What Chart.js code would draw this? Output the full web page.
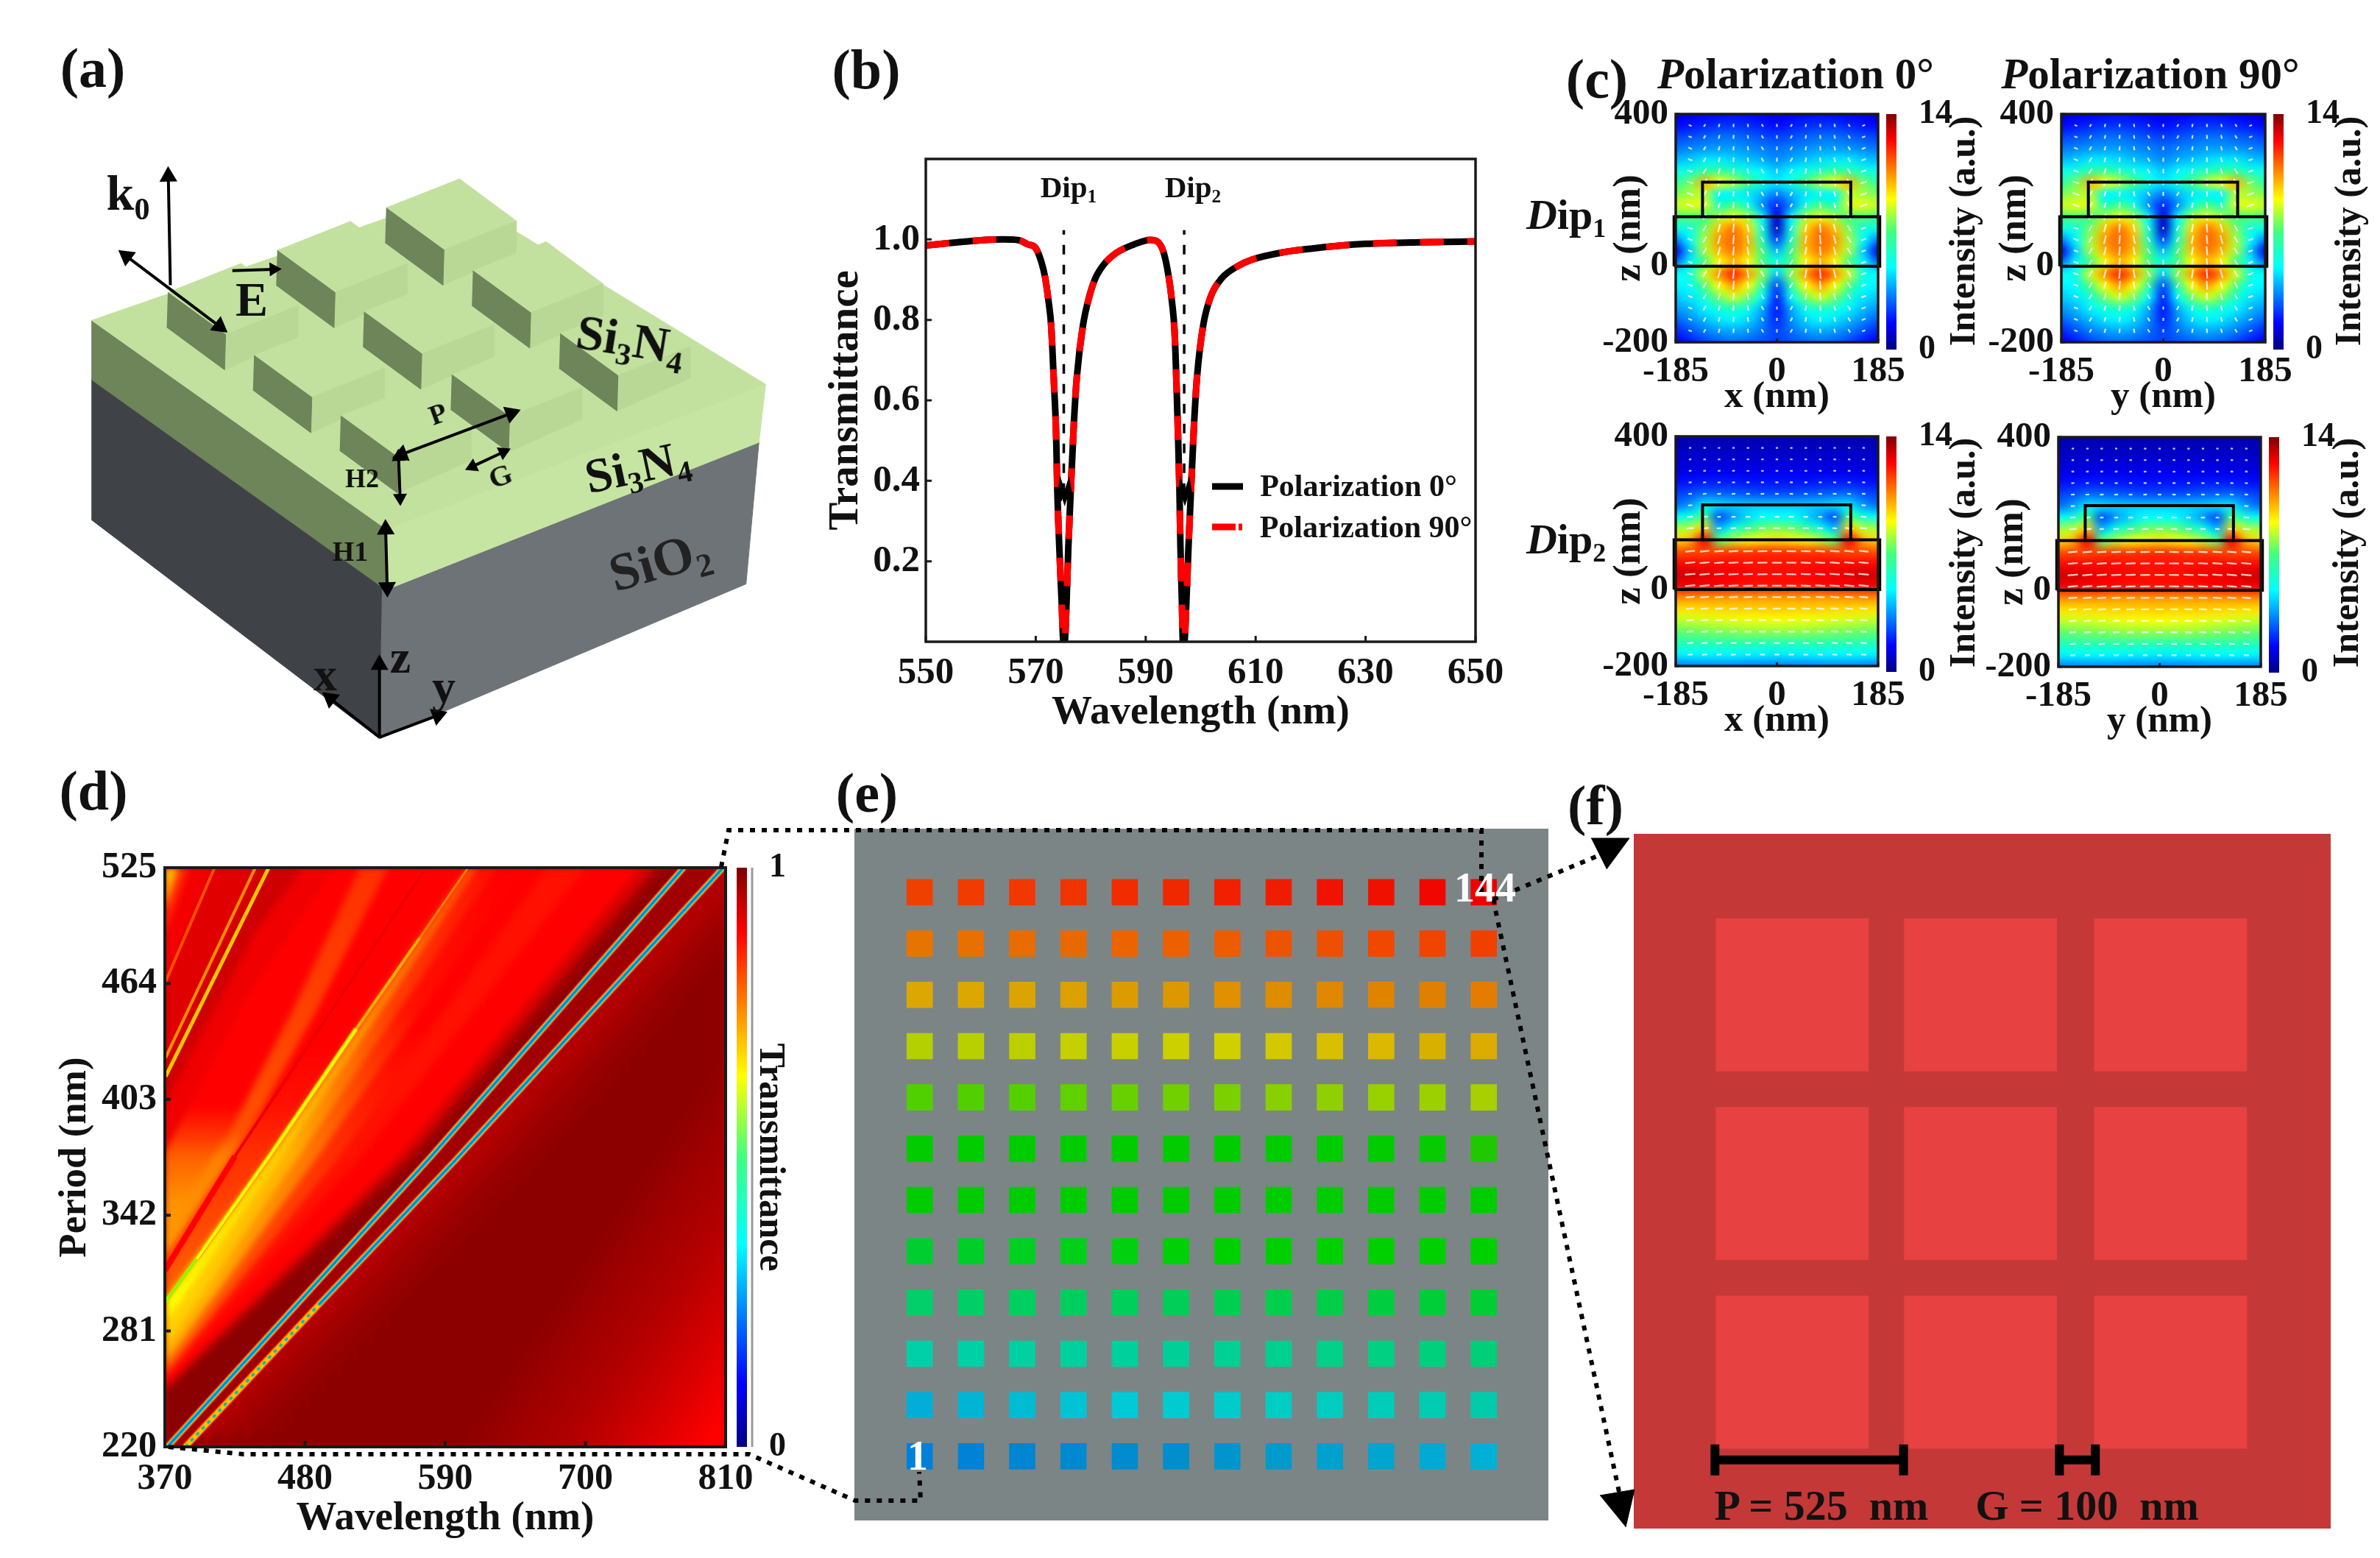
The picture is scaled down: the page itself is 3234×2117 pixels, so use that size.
<!DOCTYPE html>
<html>
<head>
<meta charset="utf-8">
<title>Metasurface colour filter figure</title>
<script src="https://cdn.jsdelivr.net/npm/chart.js@4/dist/chart.umd.min.js"></script>
<style>
  html, body { margin: 0; padding: 0; background: #fff; }
  body { position: relative; width: 3234px; height: 2117px; overflow: hidden; filter: blur(0.6px); }
  canvas { position: absolute; display: block; }
  .note { position: absolute; font-family: "Liberation Serif", serif; font-weight: bold; color: #111;
          white-space: pre; line-height: 1; }
  .note sub { font-size: 62%; vertical-align: -0.3em; line-height: 0; }
  .note i { font-style: italic; }
</style>
</head>
<body>
<script>
// ---- panel (b) spectrum
const specWavelength = [550, 555, 560, 564, 567, 568.5, 569.9, 571, 571.7, 572.36, 572.8, 573.25, 573.7, 573.92, 574.28, 574.72, 575.03, 575.26, 575.6, 575.93, 576.37, 576.95, 577.49, 578.6, 579.72, 580.83, 582.4, 584.6, 587.75, 590.87, 592.2, 593.3, 594.2, 594.8, 595.25, 595.56, 595.87, 596.14, 596.32, 596.59, 596.77, 597.03, 597.39, 597.79, 598.24, 598.82, 599.35, 600.47, 601.8, 603.8, 606.94, 609.17, 615, 620, 625, 630, 640, 650];
const specTransmittance = [0.985, 0.992, 0.998, 1, 0.998, 0.988, 0.98, 0.945, 0.906, 0.843, 0.787, 0.66, 0.519, 0.378, 0.237, 0.097, 0, 0, 0.097, 0.237, 0.378, 0.547, 0.66, 0.787, 0.857, 0.903, 0.938, 0.966, 0.987, 0.999, 0.994, 0.966, 0.906, 0.843, 0.772, 0.66, 0.519, 0.378, 0.237, 0.097, 0, 0, 0.097, 0.237, 0.378, 0.547, 0.66, 0.787, 0.857, 0.903, 0.935, 0.949, 0.968, 0.977, 0.984, 0.989, 0.993, 0.995];
const dipWavelengths = [575.1, 597];
const notchOne = [[574.27, 0.35], [574.59, 0.385], [575.26, 0.357], [575.93, 0.385], [576.37, 0.35]];
const notchTwo = [[596.14, 0.35], [596.46, 0.385], [597.13, 0.357], [597.8, 0.385], [598.24, 0.35]];
const specXTicks = [550, 570, 590, 610, 630, 650];
const specYTicks = [0.2, 0.4, 0.6, 0.8, 1.0];

// ---- panel (c) field maps, intensity 0..14 on fieldZ x fieldX
const fieldX = [-185, -158.6, -132.1, -105.7, -79.3, -52.9, -26.4, 0, 26.4, 52.9, 79.3, 105.7, 132.1, 158.6, 185];
const fieldZ = [400, 370, 340, 310, 280, 250, 220, 190, 160, 130, 100, 70, 40, 10, -20, -50, -80, -110, -140, -170, -200];
const dip1Field = [
  [0.9, 1.2, 1.4, 1.6, 1.7, 1.6, 1.4, 1.2, 1.4, 1.6, 1.7, 1.6, 1.4, 1.2, 0.9],
  [1.6, 1.8, 2.0, 2.2, 2.2, 2.1, 1.9, 1.7, 1.9, 2.1, 2.2, 2.2, 2.0, 1.8, 1.6],
  [2.4, 2.6, 2.8, 3.0, 3.0, 2.8, 2.6, 2.4, 2.6, 2.8, 3.0, 3.0, 2.8, 2.6, 2.4],
  [3.1, 3.3, 3.5, 3.6, 3.6, 3.4, 3.2, 3.0, 3.2, 3.4, 3.6, 3.6, 3.5, 3.3, 3.1],
  [4.0, 4.2, 4.6, 4.6, 4.4, 4.1, 3.8, 3.4, 3.8, 4.1, 4.4, 4.6, 4.6, 4.2, 4.0],
  [5.2, 5.6, 6.5, 6.6, 6.0, 5.4, 4.8, 4.2, 4.8, 5.4, 6.0, 6.6, 6.5, 5.6, 5.2],
  [6.4, 7.5, 10, 9.0, 8.2, 7.0, 5.5, 4.6, 5.5, 7.0, 8.2, 9.0, 10, 7.5, 6.4],
  [7.6, 8.0, 8.2, 4.8, 4.8, 4.6, 4.0, 3.2, 4.0, 4.6, 4.8, 4.8, 8.2, 8.0, 7.6],
  [8.4, 8.6, 8.6, 6.0, 7.0, 5.6, 3.4, 2.0, 3.4, 5.6, 7.0, 6.0, 8.6, 8.6, 8.4],
  [7.0, 7.2, 7.0, 8.0, 8.8, 8.0, 4.8, 1.0, 4.8, 8.0, 8.8, 8.0, 7.0, 7.2, 7.0],
  [5.5, 5.5, 7.5, 9.8, 10.8, 9.5, 5.5, 0.8, 5.5, 9.5, 10.8, 9.8, 7.5, 5.5, 5.5],
  [3.2, 5.0, 8.0, 10.4, 11, 10, 6.0, 2.4, 6.0, 10, 11, 10.4, 8.0, 5.0, 3.2],
  [1.2, 4.2, 8.0, 10, 10.8, 9.8, 7.0, 4.0, 7.0, 9.8, 10.8, 10, 8.0, 4.2, 1.2],
  [3.0, 4.8, 7.0, 9.0, 10, 9.0, 7.0, 5.4, 7.0, 9.0, 10, 9.0, 7.0, 4.8, 3.0],
  [5.0, 5.5, 8.5, 10.6, 12, 10.4, 7.8, 4.2, 7.8, 10.4, 12, 10.6, 8.5, 5.5, 5.0],
  [4.8, 5.0, 7.2, 9.0, 10.4, 9.0, 6.5, 2.6, 6.5, 9.0, 10.4, 9.0, 7.2, 5.0, 4.8],
  [4.2, 4.6, 5.8, 7.6, 8.5, 7.6, 5.0, 2.0, 5.0, 7.6, 8.5, 7.6, 5.8, 4.6, 4.2],
  [3.6, 4.0, 4.8, 5.6, 6.0, 5.4, 3.8, 1.8, 3.8, 5.4, 6.0, 5.6, 4.8, 4.0, 3.6],
  [2.8, 3.4, 4.0, 4.6, 4.8, 4.4, 3.4, 2.0, 3.4, 4.4, 4.8, 4.6, 4.0, 3.4, 2.8],
  [2.0, 2.6, 3.2, 3.6, 3.8, 3.6, 3.0, 2.4, 3.0, 3.6, 3.8, 3.6, 3.2, 2.6, 2.0],
  [1.2, 1.8, 2.4, 2.8, 3.0, 2.8, 2.6, 2.4, 2.6, 2.8, 3.0, 2.8, 2.4, 1.8, 1.2],
];
const dip2Field = [
  [0.5, 0.6, 0.6, 0.6, 0.6, 0.6, 0.6, 0.6, 0.6, 0.6, 0.6, 0.6, 0.6, 0.6, 0.5],
  [0.7, 0.8, 0.8, 0.8, 0.8, 0.8, 0.8, 0.8, 0.8, 0.8, 0.8, 0.8, 0.8, 0.8, 0.7],
  [0.9, 1.0, 1.0, 1.0, 1.0, 1.0, 1.0, 1.0, 1.0, 1.0, 1.0, 1.0, 1.0, 1.0, 0.9],
  [1.2, 1.2, 1.3, 1.3, 1.3, 1.3, 1.3, 1.3, 1.3, 1.3, 1.3, 1.3, 1.3, 1.2, 1.2],
  [1.7, 1.8, 1.9, 1.9, 1.9, 1.8, 1.8, 1.8, 1.8, 1.8, 1.9, 1.9, 1.9, 1.8, 1.7],
  [2.4, 2.6, 3.0, 2.9, 2.8, 2.7, 2.6, 2.6, 2.6, 2.7, 2.8, 2.9, 3.0, 2.6, 2.4],
  [3.0, 3.6, 4.6, 4.4, 4.2, 4.2, 4.2, 4.2, 4.2, 4.2, 4.2, 4.4, 4.6, 3.6, 3.0],
  [5.0, 5.6, 7.0, 2.6, 3.6, 4.4, 5.0, 5.0, 5.0, 4.4, 3.6, 2.6, 7.0, 5.6, 5.0],
  [8.0, 8.2, 9.8, 4.0, 5.6, 6.6, 7.4, 7.6, 7.4, 6.6, 5.6, 4.0, 9.8, 8.2, 8.0],
  [9.5, 10, 12.5, 7.2, 8.2, 8.8, 9.2, 9.4, 9.2, 8.8, 8.2, 7.2, 12.5, 10, 9.5],
  [11.3, 11.4, 11.5, 11.5, 11.6, 11.6, 11.7, 11.7, 11.7, 11.6, 11.6, 11.5, 11.5, 11.4, 11.3],
  [12.3, 12.3, 12.3, 12.3, 12.3, 12.2, 12.2, 12.2, 12.2, 12.2, 12.3, 12.3, 12.3, 12.3, 12.3],
  [13, 13, 12.8, 12.6, 12.5, 12.4, 12.3, 12.3, 12.3, 12.4, 12.5, 12.6, 12.8, 13, 13],
  [12.6, 12.6, 12.5, 12.4, 12.3, 12.2, 12.2, 12.2, 12.2, 12.2, 12.3, 12.4, 12.5, 12.6, 12.6],
  [10.6, 10.6, 10.5, 10.5, 10.4, 10.4, 10.4, 10.4, 10.4, 10.4, 10.4, 10.5, 10.5, 10.6, 10.6],
  [9.4, 9.4, 9.5, 9.5, 9.6, 9.6, 9.6, 9.7, 9.6, 9.6, 9.6, 9.5, 9.5, 9.4, 9.4],
  [8.3, 8.4, 8.5, 8.6, 8.7, 8.8, 8.8, 8.9, 8.8, 8.8, 8.7, 8.6, 8.5, 8.4, 8.3],
  [7.3, 7.4, 7.5, 7.6, 7.7, 7.8, 7.8, 7.8, 7.8, 7.8, 7.7, 7.6, 7.5, 7.4, 7.3],
  [6.0, 6.1, 6.2, 6.2, 6.2, 6.2, 6.1, 6.1, 6.1, 6.2, 6.2, 6.2, 6.2, 6.1, 6.0],
  [4.7, 4.8, 4.8, 4.8, 4.8, 4.7, 4.7, 4.6, 4.7, 4.7, 4.8, 4.8, 4.8, 4.8, 4.7],
  [3.2, 3.2, 3.3, 3.3, 3.3, 3.2, 3.2, 3.2, 3.2, 3.2, 3.3, 3.3, 3.3, 3.2, 3.2],
];
const dip1Angle = [20, 20, 120, 105, 95, 80, 60, 90, 120, 100, 85, 75, 60, -20, -20];
const dip2Angle = [-5, -5, -5, -4, -3, -2, -1, 0, 1, 2, 3, 4, 5, 5, 5];
const slabOutline = [[-188, 0], [188, 0], [188, 130], [-188, 130], [-188, 0]];
const pillarOutline = [[-136, 130], [-136, 221], [135, 221], [135, 130]];
const fieldXTicks = [-185, 0, 185];
const fieldYTicks = [-200, 0, 400];

// ---- panel (d) transmittance map: band edges from upper left to lower right.
// A band's colour fills everything on the upper left of its edge.
const periodTicks = [220, 281, 342, 403, 464, 525];
const mapWavelengthTicks = [370, 480, 590, 700, 810];
const bandEdges = [
  [[370, 515], [374, 525]],
  [[370, 503], [381, 525]],
  [[370, 490], [389, 525]],
  [[370, 462], [407, 525]],
  [[370, 420], [445, 525]],
  [[370, 400], [440, 490], [478, 525]],
  [[370, 375], [433, 455], [503, 525]],
  [[370, 335], [421, 386], [471, 451], [523, 525]],
  [[370, 320], [440, 390], [490, 451], [545, 525]],
  [[370, 313], [425, 373], [575, 525]],
  [[370, 297], [452, 373], [608, 525]],
  [[370, 285], [462, 373], [615, 525]],
  [[370, 272], [475, 373], [630, 525]],
  [[370, 264], [490, 373], [650, 525]],
  [[370, 258], [507, 373], [670, 525]],
  [[370, 255], [524, 373], [700, 525]],
  [[370, 252], [553, 373], [743, 525]],
  [[370, 250], [562, 373], [755, 525]],
  [[370, 248], [570, 373], [765, 525]],
  [[370, 218], [479, 299], [579, 373], [777, 525]],
  [[370, 208], [491, 295], [598, 371], [808, 525]],
  [[400, 220], [620, 371], [810, 510]],
  [[415, 220], [635, 371], [810, 500]],
  [[430, 220], [650, 371], [810, 490]],
  [[445, 220], [665, 371], [810, 480]],
];
const bandColors = [
  '#ffe000', '#ffb000', '#ff2800', '#f40000', '#e00000', '#cf0000', '#f00000',
  [[525, '#ff0000'], [400, '#ff0000'], [385, '#ff3000'], [373, '#ff6000'], [350, '#ff9000'], [320, '#ffb000']],
  [[525, '#ff3000'], [451, '#ff4000'], [386, '#ff5000'], [373, '#ff8000'], [320, '#ffa000']],
  [[525, '#ff0000'], [400, '#ff0000'], [373, '#ff2000'], [320, '#ff4000']],
  [[525, '#ff0000'], [430, '#ff0000'], [400, '#ff1000'], [373, '#ff3000'], [300, '#ff6000']],
  [[525, '#ff5000'], [450, '#ff9000'], [373, '#ffd000'], [296, '#ffff00'], [270, '#ffe800']],
  [[525, '#ff1000'], [450, '#ff4000'], [373, '#ffb000'], [300, '#ffd000']],
  [[525, '#ff0000'], [450, '#ff1000'], [373, '#ff7800'], [300, '#ffb000']],
  [[525, '#ff0000'], [440, '#ff0000'], [373, '#ff3000'], [280, '#ff6000']],
  '#ff1000', '#ff0000', '#d80000', '#a00000', '#8b0000', '#a00000', '#b00000', '#a50000', '#9a0000', '#930000',
];
// lower right corner brightens towards (810, 220); stops run from the edge to the corner
const cornerEdge = [[600, 220], [810, 430]];
const cornerStops = [[0, '#8d0000'], [0.24, '#a40000'], [0.43, '#b40000'], [0.57, '#c80000'], [0.714, '#dc0000'], [0.833, '#f00000'], [0.93, '#ff0000'], [1, '#ff0000']];
const dipOneLine = [[372, 220], [479, 299], [579, 373], [777, 525]];
const dipTwoFull = [[386, 220], [491, 295], [598, 371], [808, 525]];
const dipTwoUpper = [[491, 295], [598, 371], [808, 525]];
const dipTwoLower = [[386, 220], [491, 295]];
const ridgeStart = [[370, 296], [395, 319]];
const ridgeLow = [[395, 319], [452, 373], [520, 440]];
const ridgeMid = [[520, 440], [570, 488]];
const ridgeHigh = [[570, 488], [608, 525]];
const thinLine = [[370.6, 465], [409, 525]];
const doubleLineA = [[370.6, 425], [441, 525]];
const doubleLineB = [[370.6, 415], [451.5, 525]];
const redLineLow = [[370, 313], [425, 373]];
const redLineHigh = [[425, 373], [575, 525]];

// ---- panel (e) printed colours, row 1 (bottom) first
const cellColumns = [1, 2, 3, 4, 5, 6, 7, 8, 9, 10, 11, 12];
const cellRows = [1, 2, 3, 4, 5, 6, 7, 8, 9, 10, 11, 12];
const cellColors = [
  ['#0080d8', '#0082d6', '#0085d2', '#0088d0', '#008bce', '#008fcc', '#0095cc', '#009bcc', '#00a0cf', '#00a5d0', '#00aad2', '#00b0d6'],
  ['#00aed8', '#00b4d6', '#00bcd2', '#00c4d4', '#00cad6', '#00ccd0', '#00cccc', '#00cdc4', '#00cdbe', '#00cdb8', '#00ccb2', '#00ccac'],
  ['#00d0a8', '#00d0a6', '#00d0a2', '#00d0a0', '#00d09c', '#00d098', '#00d094', '#00d08e', '#00d088', '#00d082', '#00cf7c', '#00ce78'],
  ['#00cf6a', '#00cf68', '#00d060', '#00cf60', '#00cf5c', '#00ce58', '#00ce50', '#00ce4c', '#00ce48', '#00ce40', '#00ce38', '#00ce34'],
  ['#00ce30', '#00ce28', '#00d020', '#00d018', '#00d010', '#00d008', '#00d000', '#00d000', '#00d000', '#00d000', '#00d000', '#00d000'],
  ['#00cc00', '#00cc00', '#00cc00', '#00cc00', '#00cc00', '#00cc00', '#00cc00', '#00cc00', '#00cc00', '#00cc00', '#00cc00', '#00cc00'],
  ['#00cc00', '#00cc00', '#00cc00', '#00cc00', '#00cc00', '#00cc00', '#00cc00', '#00cc00', '#00cc00', '#00cc00', '#08ca00', '#20c800'],
  ['#50d000', '#50d000', '#54d000', '#60d000', '#68d000', '#70d000', '#7cd000', '#88d000', '#90d000', '#98d000', '#9cd000', '#a8d000'],
  ['#b4d000', '#b8d000', '#bcd000', '#c4d000', '#c8d000', '#ccd000', '#d0d000', '#d4c800', '#d8c000', '#dcb800', '#d8b000', '#dcac00'],
  ['#dca800', '#dca800', '#dca400', '#dca000', '#dc9c00', '#dc9800', '#e09000', '#e08c00', '#e08800', '#e08400', '#e08000', '#e47c00'],
  ['#e87400', '#e87000', '#e86c00', '#e86800', '#ec6400', '#ec6000', '#ec5c00', '#ec5400', '#ec5000', '#f04800', '#f04400', '#f04000'],
  ['#f04000', '#f03c00', '#f03800', '#f03400', '#f02c00', '#f02800', '#f02000', '#f01c00', '#f01400', '#f01000', '#f00800', '#f00000'],
];

// ---- panel (f) unit cell in nm
const squareCentersX = [-522, 2, 531];
const squareCentersY = [525, 0, -525];
const periodBar = [[-737, -769], [-212, -769]];
const periodCaps = [[[-737, -812], [-737, -726]], [[-212, -812], [-212, -726]]];
const gapBar = [[222, -769], [322, -769]];
const gapCaps = [[[222, -812], [222, -726]], [[322, -812], [322, -726]]];

// ---- panel (a) schematic, in its own drawing units
const lowerLeftFace = [[177, 785], [740, 1215], [735, 1528], [177, 1075]];
const lowerRightFace = [[740, 1215], [1470, 915], [1445, 1208], [735, 1528]];
const slabLeftFace = [[177, 663], [748, 1095], [748, 1220], [177, 785]];
const slabRightFace = [[748, 1095], [1483, 795], [1470, 915], [748, 1220]];
const slabTopFace = [[177, 663], [882, 402], [1483, 795], [748, 1095]];
const pillarAnchors = [[748, 430], [537, 518], [916, 560], [325, 605], [705, 645], [1085, 690], [492, 735], [875, 775], [660, 860]];
const pillarTop = [[0, 0], [142, -60], [252, 27], [112, 87]];
const pillarLeft = [[0, 0], [112, 87], [110, 160], [-2, 72]];
const pillarRight = [[112, 87], [252, 27], [252, 92], [110, 160]];
const schematicArrows = [
  [330, 590, 326, 365, 0], [245, 530, 425, 675, 1], [450, 560, 530, 557, 0], [778, 940, 990, 855, 1],
  [772, 945, 775, 1030, 1], [915, 965, 975, 935, 1], [747, 1095, 750, 1215, 1],
  [735, 1525, 735, 1375, 0], [735, 1525, 640, 1445, 0], [735, 1525, 848, 1480, 0],
];

// ---- dotted leaders between panels, in page units
const leaderTop = [[980, 1178], [990, 1128], [2013, 1128], [2013, 1212]];
const leaderBottom = [[229, 1966], [331, 1976], [1018, 1976], [1162, 2039], [1251, 2039], [1249, 2000]];
const leaderToCorner = [[2029, 1222], [2183, 1158]];
const leaderToFoot = [[2029, 1222], [2200, 2027]];
const arrowHeadTop = [[2162, 1139], [2214, 1139], [2183, 1181]];
const arrowHeadFoot = [[2174, 2032], [2221, 2024], [2209, 2075]];
const legendKeyBlack = [[1647, 661], [1689, 661]];
const legendKeyRed = [[1647, 716], [1689, 716]];

const jetStops = [[0, '#00007f'], [0.11, '#0000ff'], [0.35, '#00ffff'], [0.5, '#40ff80'], [0.64, '#ffff00'], [0.89, '#ff0000'], [1, '#7f0000']];
const textFont = '"Liberation Serif", serif';

Chart.defaults.font.family = textFont;
Chart.defaults.font.weight = 'bold';
Chart.defaults.color = '#111';
Chart.defaults.animation = false;
Chart.defaults.events = [];
Chart.defaults.devicePixelRatio = 1;
Chart.defaults.plugins.legend.display = false;
Chart.defaults.plugins.tooltip.enabled = false;

const toPoints = (pairs) => pairs.map(([x, y]) => ({ x, y }));

const hexToRgb = (hex) => [1, 3, 5].map((i) => parseInt(hex.slice(i, i + 2), 16));
const jetColor = (t) => {
  let i = 0;
  while (i < jetStops.length - 2 && t > jetStops[i + 1][0]) i += 1;
  const [t0, c0] = jetStops[i];
  const [t1, c1] = jetStops[i + 1];
  const f = Math.min(1, Math.max(0, (t - t0) / (t1 - t0)));
  const a = hexToRgb(c0);
  const b = hexToRgb(c1);
  return `rgb(${a.map((v, k) => Math.round(v + (b[k] - v) * f)).join(',')})`;
};

const addCanvas = (left, top, width, height, parent = document.body) => {
  const canvas = document.createElement('canvas');
  canvas.width = width;
  canvas.height = height;
  canvas.style.left = `${left}px`;
  canvas.style.top = `${top}px`;
  canvas.style.width = `${width}px`;
  canvas.style.height = `${height}px`;
  parent.appendChild(canvas);
  return canvas;
};

const lineSet = (pairs, color, width, extra = {}) => ({
  data: toPoints(pairs),
  showLine: true,
  borderColor: color,
  borderWidth: width,
  pointRadius: 0,
  tension: 0,
  ...extra,
});

const polySet = (pairs, color) => ({
  data: toPoints(pairs),
  showLine: true,
  fill: 'shape',
  backgroundColor: color,
  borderColor: color,
  borderWidth: 1,
  pointRadius: 0,
  tension: 0,
});

const frameTicks = (lineWidth, tickLength, tickWidth) => ({
  id: 'frameTicks',
  afterDatasetsDraw(chart) {
    const { ctx, chartArea: a, scales: { x, y } } = chart;
    ctx.save();
    ctx.strokeStyle = '#1a1a1a';
    ctx.lineWidth = tickWidth;
    ctx.beginPath();
    x.ticks.forEach((t) => {
      const px = x.getPixelForValue(t.value);
      ctx.moveTo(px, a.bottom);
      ctx.lineTo(px, a.bottom - tickLength);
    });
    y.ticks.forEach((t) => {
      const py = y.getPixelForValue(t.value);
      ctx.moveTo(a.left, py);
      ctx.lineTo(a.left + tickLength, py);
    });
    ctx.stroke();
    ctx.lineWidth = lineWidth;
    ctx.strokeRect(a.left, a.top, a.width, a.height);
    ctx.restore();
  },
});

// scales keep the label overflow out of the layout so the plot box stays put
const clearScalePadding = (s) => {
  s.paddingTop = 0;
  s.paddingBottom = 0;
  s.paddingLeft = 0;
  s.paddingRight = 0;
};

// chart whose plot area lands exactly on box = [left, top, right, bottom]
const plotChart = ({ box, pad, xRange, yRange, xTicks, yTicks, xTitle, yTitle, tickSize, xTitleSize, yTitleSize, xPad, yPad, yFormat, datasets, plugins }) => {
  const [l, t, r, b] = box;
  const canvas = addCanvas(l - pad.l, t - pad.t, r - l + pad.l + pad.r, b - t + pad.t + pad.b);
  const axis = (range, ticks, padding, title, titleSize) => ({
    type: 'linear',
    min: range[0],
    max: range[1],
    afterBuildTicks: (s) => { s.ticks = ticks.map((value) => ({ value })); },
    grid: { display: false, drawTicks: false },
    border: { display: false },
    ticks: { font: { size: tickSize }, padding, maxRotation: 0, autoSkip: false, includeBounds: false },
    title: { display: true, text: title.text, font: { size: titleSize }, padding: { top: title.inset || 0, bottom: 0 } },
  });
  const x = axis(xRange, xTicks, xPad, xTitle, xTitleSize);
  const y = axis(yRange, yTicks, yPad, yTitle, yTitleSize);
  x.afterFit = (s) => { s.height = pad.b; clearScalePadding(s); };
  y.afterFit = (s) => { s.width = pad.l; clearScalePadding(s); };
  if (yFormat) y.ticks.callback = yFormat;
  return new Chart(canvas, {
    type: 'scatter',
    data: { datasets },
    options: {
      responsive: false,
      layout: { autoPadding: false, padding: { top: pad.t, right: pad.r, left: 0, bottom: 0 } },
      scales: { x, y },
    },
    plugins,
  });
};

const bareChart = (canvas, xRange, yRange, datasets, reverse = false, plugins = []) => new Chart(canvas, {
  type: 'scatter',
  data: { datasets },
  options: {
    responsive: false,
    layout: { autoPadding: false, padding: 0 },
    scales: {
      x: { type: 'linear', display: false, min: xRange[0], max: xRange[1] },
      y: { type: 'linear', display: false, min: yRange[0], max: yRange[1], reverse },
    },
  },
  plugins,
});

const colorbar = ({ box, padRight, maxValue, title, rule }) => {
  const [l, t, r, b] = box;
  const canvas = addCanvas(l, t - 30, r - l + padRight, b - t + 60);
  const plugins = rule ? [{
    id: 'barRule',
    afterDatasetsDraw(chart) {
      const { ctx, chartArea: a } = chart;
      ctx.save();
      ctx.strokeStyle = '#9a9a9a';
      ctx.lineWidth = 3;
      ctx.beginPath();
      ctx.moveTo(a.right + 7, a.top);
      ctx.lineTo(a.right + 7, a.bottom);
      ctx.stroke();
      ctx.restore();
    },
  }] : [];
  return new Chart(canvas, {
    type: 'bar',
    data: {
      labels: [''],
      datasets: [{
        data: [[0, maxValue]],
        barPercentage: 1,
        categoryPercentage: 1,
        borderSkipped: false,
        backgroundColor: (ctx) => {
          const { chart } = ctx;
          if (!chart.chartArea) return '#000';
          const g = chart.ctx.createLinearGradient(0, chart.chartArea.bottom, 0, chart.chartArea.top);
          jetStops.forEach(([s, c]) => g.addColorStop(s, c));
          return g;
        },
      }],
    },
    options: {
      responsive: false,
      layout: { autoPadding: false, padding: { top: 30, bottom: 30, left: 0, right: 0 } },
      scales: {
        x: { display: false },
        y: {
          position: 'right',
          min: 0,
          max: maxValue,
          afterBuildTicks: (s) => { s.ticks = [0, maxValue].map((value) => ({ value })); },
          afterFit: (s) => { s.width = padRight; clearScalePadding(s); },
          grid: { display: false, drawTicks: false },
          border: { display: false },
          ticks: { font: { size: 46 }, padding: 30 },
          title: title ? { display: true, text: title, font: { size: 50 }, padding: 0 } : { display: false },
        },
      },
    },
    plugins,
  });
};

// ---- (a) schematic
const drawSchematic = () => {
  const canvas = addCanvas(0, 0, 1100, 1030);
  const sx = 1568 / 1100;
  const sy = 1568 / 1030;
  const painted = [
    polySet(lowerLeftFace, '#3f4347'),
    polySet(lowerRightFace, '#6e7377'),
    polySet(slabLeftFace, '#6e8459'),
    polySet(slabRightFace, '#c6e5a2'),
    polySet(slabTopFace, '#c2e19e'),
  ];
  pillarAnchors.forEach(([ax, ay]) => {
    const shift = (shape) => shape.map(([x, y]) => [ax + x, ay + y]);
    painted.push(polySet(shift(pillarTop), '#c2e19e'));
    painted.push(polySet(shift(pillarRight), '#b9d895'));
    painted.push(polySet(shift(pillarLeft), '#6e8459'));
  });
  schematicArrows.forEach(([x0, y0, x1, y1, both]) => {
    const angle = Math.atan2((x1 - x0) / sx, -(y1 - y0) / sy) * 180 / Math.PI;
    const head = (Math.hypot(x1 - x0, y1 - y0) < 110) ? 7 : 10;
    painted.push(lineSet([[x0, y0], [x1, y1]], '#000', 4, {
      pointStyle: 'triangle',
      pointRadius: [both ? head : 0, head],
      pointRotation: [angle + 180, angle],
      pointBackgroundColor: '#000',
      pointBorderColor: '#000',
    }));
  });
  bareChart(canvas, [0, 1568], [0, 1568], painted.reverse(), true);
};

// ---- (b) spectrum
const drawSpectrum = () => {
  const curve = toPoints(specWavelength.map((w, i) => [w, specTransmittance[i]]));
  const curveOpts = { cubicInterpolationMode: 'monotone' };
  plotChart({
    box: [1258, 216, 2005, 872],
    pad: { l: 142, r: 60, t: 20, b: 130 },
    xRange: [550, 650],
    yRange: [0, 1.2],
    xTicks: specXTicks,
    yTicks: specYTicks,
    xTitle: { text: 'Wavelength (nm)' },
    yTitle: { text: 'Transmittance' },
    tickSize: 51,
    xTitleSize: 55,
    yTitleSize: 57,
    xPad: 12,
    yPad: 8,
    yFormat: (v) => v.toFixed(1),
    datasets: [
      lineSet(notchOne, '#000', 7),
      lineSet(notchTwo, '#000', 7),
      { ...lineSet([], '#ff0000', 9, { borderDash: [32, 32], ...curveOpts }), data: curve, label: 'Polarization 90°' },
      { ...lineSet([], '#000', 9, curveOpts), data: curve, label: 'Polarization 0°' },
      lineSet([[dipWavelengths[0], 0.37], [dipWavelengths[0], 1.023]], '#000', 3.5, { borderDash: [13, 14] }),
      lineSet([[dipWavelengths[1], 0.37], [dipWavelengths[1], 1.023]], '#000', 3.5, { borderDash: [13, 14] }),
    ],
    plugins: [frameTicks(3.5, 8, 3)],
  });
};

// ---- (c) field maps
const fieldImage = (field) => {
  const rows = field.length;
  const cols = field[0].length;
  const off = document.createElement('canvas');
  off.width = cols;
  off.height = rows;
  const c = off.getContext('2d');
  field.forEach((row, j) => row.forEach((v, i) => {
    c.fillStyle = jetColor(v / 14);
    c.fillRect(i, j, 1, 1);
  }));
  return {
    id: 'fieldImage',
    beforeDatasetsDraw(chart) {
      const { ctx, chartArea: a, scales: { x, y } } = chart;
      const x0 = x.getPixelForValue(fieldX[0]);
      const y0 = y.getPixelForValue(fieldZ[0]);
      const dx = x.getPixelForValue(fieldX[1]) - x0;
      const dy = y.getPixelForValue(fieldZ[1]) - y0;
      ctx.save();
      ctx.beginPath();
      ctx.rect(a.left, a.top, a.width, a.height);
      ctx.clip();
      ctx.imageSmoothingEnabled = true;
      ctx.imageSmoothingQuality = 'high';
      ctx.drawImage(off, x0 - dx / 2, y0 - dy / 2, dx * cols, dy * rows);
      ctx.restore();
    },
  };
};

const fieldArrows = (field, angles) => {
  const data = [];
  const rotation = [];
  const radius = [];
  field.forEach((row, j) => {
    if (j === 0 || j === field.length - 1) return;
    row.forEach((v, i) => {
      if (i === 0 || i === row.length - 1) return;
      data.push({ x: fieldX[i], y: fieldZ[j] });
      rotation.push(angles[i]);
      radius.push(1.2 + v * 0.45);
    });
  });
  return {
    data,
    pointStyle: 'line',
    pointRotation: rotation,
    pointRadius: radius,
    pointBorderColor: 'rgba(255,255,255,0.8)',
    pointBorderWidth: 2.2,
  };
};

const drawField = (box, field, angles, axisName) => {
  const outline = { clip: false };
  plotChart({
    box,
    pad: { l: 110, r: 50, t: 24, b: 105 },
    xRange: [-185, 185],
    yRange: [-200, 400],
    xTicks: fieldXTicks,
    yTicks: fieldYTicks,
    xTitle: { text: axisName },
    yTitle: { text: 'z (nm)', inset: 16 },
    tickSize: 49,
    xTitleSize: 51,
    yTitleSize: 53,
    xPad: 11,
    yPad: 10,
    datasets: [
      lineSet(slabOutline, '#000', 4, outline),
      lineSet(pillarOutline, '#000', 4, outline),
      fieldArrows(field, angles),
    ],
    plugins: [fieldImage(field), frameTicks(3.5, 5, 3)],
  });
  colorbar({ box: [box[2] + 11, box[1], box[2] + 25, box[1] + 320], padRight: 90, maxValue: 14 });
};

// ---- (d) transmittance map
const bandFill = (spec) => {
  if (typeof spec === 'string') return spec;
  return (ctx) => {
    const { chart } = ctx;
    const y = chart.scales.y;
    const top = y ? y.getPixelForValue(525) : NaN;
    const bottom = y ? y.getPixelForValue(220) : NaN;
    if (!Number.isFinite(top) || !Number.isFinite(bottom)) return spec[0][1];
    const g = chart.ctx.createLinearGradient(0, top, 0, bottom);
    spec.forEach(([v, c]) => g.addColorStop(Math.min(1, Math.max(0, (525 - v) / 305)), c));
    return g;
  };
};

// gradient across cornerEdge, running from the edge straight to the plot corner
const cornerFill = (ctx) => {
  const { chart } = ctx;
  const { x, y } = chart.scales;
  const cx = x ? x.getPixelForValue(810) : NaN;
  const cy = y ? y.getPixelForValue(220) : NaN;
  if (!Number.isFinite(cx) || !Number.isFinite(cy)) return cornerStops[0][1];
  const ax = x.getPixelForValue(cornerEdge[0][0]);
  const by = y.getPixelForValue(cornerEdge[1][1]);
  const ex = cx - ax;
  const ey = cy - by;
  const len2 = ex * ex + ey * ey;
  const t = (ex * ey * ey) / len2;
  const g = chart.ctx.createLinearGradient(cx - t, cy - (t * ex) / ey, cx, cy);
  cornerStops.forEach(([s, c]) => g.addColorStop(s, c));
  return g;
};

const fillSet = (pairs, color, fill) => ({
  data: toPoints(pairs),
  showLine: true,
  fill,
  backgroundColor: typeof color === 'function' ? color : bandFill(color),
  borderWidth: 0,
  borderColor: 'rgba(0,0,0,0)',
  pointRadius: 0,
  tension: 0,
});

const drawMap = () => {
  const box = [224, 1179, 986, 1966];
  const wrap = document.createElement('div');
  wrap.style.cssText = `position:absolute;left:${box[0]}px;top:${box[1]}px;width:${box[2] - box[0]}px;height:${box[3] - box[1]}px;overflow:hidden;background:#c00000`;
  document.body.appendChild(wrap);
  const heat = addCanvas(0, 0, box[2] - box[0], box[3] - box[1], wrap);
  heat.style.filter = 'blur(5px)';
  const bands = bandEdges.map((edge, i) => fillSet(edge, bandColors[i], 'end'));
  const corner = fillSet(cornerEdge, cornerFill, 'start');
  const base = fillSet([[370, 525], [810, 525]], '#8d0000', 'start');
  bareChart(heat, [370, 810], [220, 525], [...bands, corner, base]);

  plotChart({
    box,
    pad: { l: 153, r: 50, t: 24, b: 131 },
    xRange: [370, 810],
    yRange: [220, 525],
    xTicks: mapWavelengthTicks,
    yTicks: periodTicks,
    xTitle: { text: 'Wavelength (nm)' },
    yTitle: { text: 'Period (nm)' },
    tickSize: 50,
    xTitleSize: 55,
    yTitleSize: 53,
    xPad: 14,
    yPad: 11,
    datasets: [
      lineSet(dipOneLine, '#0088e0', 3),
      lineSet(dipTwoUpper, '#0088e0', 3),
      lineSet(dipTwoLower, '#20b8a0', 4, { borderDash: [5, 6] }),
      lineSet(dipOneLine, '#00e0c8', 5),
      lineSet(dipTwoUpper, '#00e0c8', 5),
      lineSet(dipOneLine, '#ffc000', 7),
      lineSet(dipTwoFull, '#ffc000', 7),
      lineSet(dipOneLine, '#ff3000', 10),
      lineSet(dipTwoFull, '#ff3000', 10),
      lineSet(ridgeStart, '#a0f000', 5),
      lineSet(ridgeLow, '#ffff00', 4),
      lineSet(ridgeMid, '#ffb000', 4),
      lineSet(ridgeHigh, '#ff8000', 3),
      lineSet(ridgeLow, '#ffa000', 7),
      lineSet(thinLine, '#ff5000', 4),
      lineSet(doubleLineA, '#ff9000', 4),
      lineSet(doubleLineB, '#ffc800', 5),
      lineSet(redLineLow, '#ff0000', 8),
      lineSet(redLineHigh, '#ee0000', 4),
    ],
    plugins: [frameTicks(4, 8, 4)],
  });
  colorbar({ box: [1001, 1179, 1015, 1966], padRight: 61, maxValue: 1, title: 'Transmittance', rule: true });
};

// ---- (e) colour grid
const drawGrid = () => {
  const canvas = addCanvas(1161, 1126, 943, 940);
  canvas.style.background = '#7c8586';
  const data = [];
  const colors = [];
  cellRows.forEach((row, j) => cellColumns.forEach((col, i) => {
    data.push({ x: col, y: row });
    colors.push(cellColors[j][i]);
  }));
  bareChart(canvas, [-0.273, 13.26], [-0.25, 13.24], [{
    data,
    pointStyle: 'rect',
    pointRadius: 25.2,
    pointBackgroundColor: colors,
    pointBorderColor: colors,
    pointBorderWidth: 0,
  }]);
};

// ---- (f) unit cell
const drawUnitCell = () => {
  const canvas = addCanvas(2220, 1133, 947, 944);
  canvas.style.background = '#c53838';
  const squares = [];
  squareCentersY.forEach((y) => squareCentersX.forEach((x) => squares.push({ x, y })));
  bareChart(canvas, [-963, 977], [-960, 973], [
    lineSet(periodBar, '#000', 12),
    lineSet(periodCaps[0], '#000', 12),
    lineSet(periodCaps[1], '#000', 12),
    lineSet(gapBar, '#000', 12),
    lineSet(gapCaps[0], '#000', 12),
    lineSet(gapCaps[1], '#000', 12),
    { data: squares, pointStyle: 'rect', pointRadius: 147, pointBackgroundColor: '#e74141', pointBorderWidth: 0 },
  ]);
};

// ---- leaders and legend keys over everything
const drawOverlay = () => {
  const canvas = addCanvas(0, 0, 3234, 2117);
  const dots = { borderDash: [7, 9] };
  bareChart(canvas, [0, 3234], [0, 2117], [
    lineSet(legendKeyBlack, '#000', 9),
    lineSet(legendKeyRed, '#ff0000', 9, { borderDash: [32, 4, 5] }),
    polySet(arrowHeadTop, '#000'),
    polySet(arrowHeadFoot, '#000'),
    lineSet(leaderTop, '#000', 6, dots),
    lineSet(leaderBottom, '#000', 6, dots),
    lineSet(leaderToCorner, '#000', 6, dots),
    lineSet(leaderToFoot, '#000', 6, dots),
  ], true);
};

// text that the charts do not own: [html, x, y, size, rotation, colour]
const notes = [
  ['(a)', 126, 92, 76], ['(b)', 1177, 94, 76], ['(c)', 2170, 107, 76],
  ['(d)', 127, 1074, 76], ['(e)', 1178, 1077, 76], ['(f)', 2168, 1094, 76],
  ['k<sub>0</sub>', 174, 262, 68], ['E', 342, 407, 66],
  ['Si<sub>3</sub>N<sub>4</sub>', 857, 461, 68, 9], ['Si<sub>3</sub>N<sub>4</sub>', 866, 634, 66, -12],
  ['SiO<sub>2</sub>', 896, 762, 72, -16, '#222'],
  ['H2', 492, 650, 36], ['H1', 476, 749, 38], ['P', 595, 562, 38, -20], ['G', 680, 647, 40, -20],
  ['x', 442, 917, 64], ['z', 544, 893, 64], ['y', 603, 933, 64],
  ['Dip<sub>1</sub>', 1452, 254, 41], ['Dip<sub>2</sub>', 1621, 254, 41],
  ['Polarization 0°', 1846, 660, 42], ['Polarization 90°', 1856, 716, 42],
  ['<i>P</i>olarization 0°', 2440, 100, 59], ['<i>P</i>olarization 90°', 2922, 100, 59],
  ['<i>D</i>ip<sub>1</sub>', 2128, 292, 58], ['<i>D</i>ip<sub>2</sub>', 2128, 733, 58],
  ['Intensity (a.u.)', 2666, 314, 50, -90], ['Intensity (a.u.)', 3190, 314, 50, -90],
  ['Intensity (a.u.)', 2666, 751, 50, -90], ['Intensity (a.u.)', 3187, 751, 50, -90],
  ['1', 1247, 1978, 56, 0, '#fff'], ['144', 2018, 1206, 56, 0, '#fff'],
  ['P = 525  nm', 2475, 2046, 58], ['G = 100  nm', 2836, 2046, 58],
];

const drawNotes = () => {
  notes.forEach(([html, x, y, size, rotation = 0, color = '#111']) => {
    const el = document.createElement('div');
    el.className = 'note';
    el.innerHTML = html;
    el.style.left = `${x}px`;
    el.style.top = `${y}px`;
    el.style.fontSize = `${size}px`;
    el.style.color = color;
    el.style.transform = `translate(-50%, -50%) rotate(${rotation}deg)`;
    document.body.appendChild(el);
  });
};

drawSchematic();
drawSpectrum();
drawField([2277, 155, 2552, 465], dip1Field, dip1Angle, 'x (nm)');
drawField([2801, 155, 3078, 465], dip1Field, dip1Angle, 'y (nm)');
drawField([2277, 593, 2552, 905], dip2Field, dip2Angle, 'x (nm)');
drawField([2797, 594, 3072, 906], dip2Field, dip2Angle, 'y (nm)');
drawMap();
drawGrid();
drawUnitCell();
drawOverlay();
drawNotes();
</script>
</body>
</html>
